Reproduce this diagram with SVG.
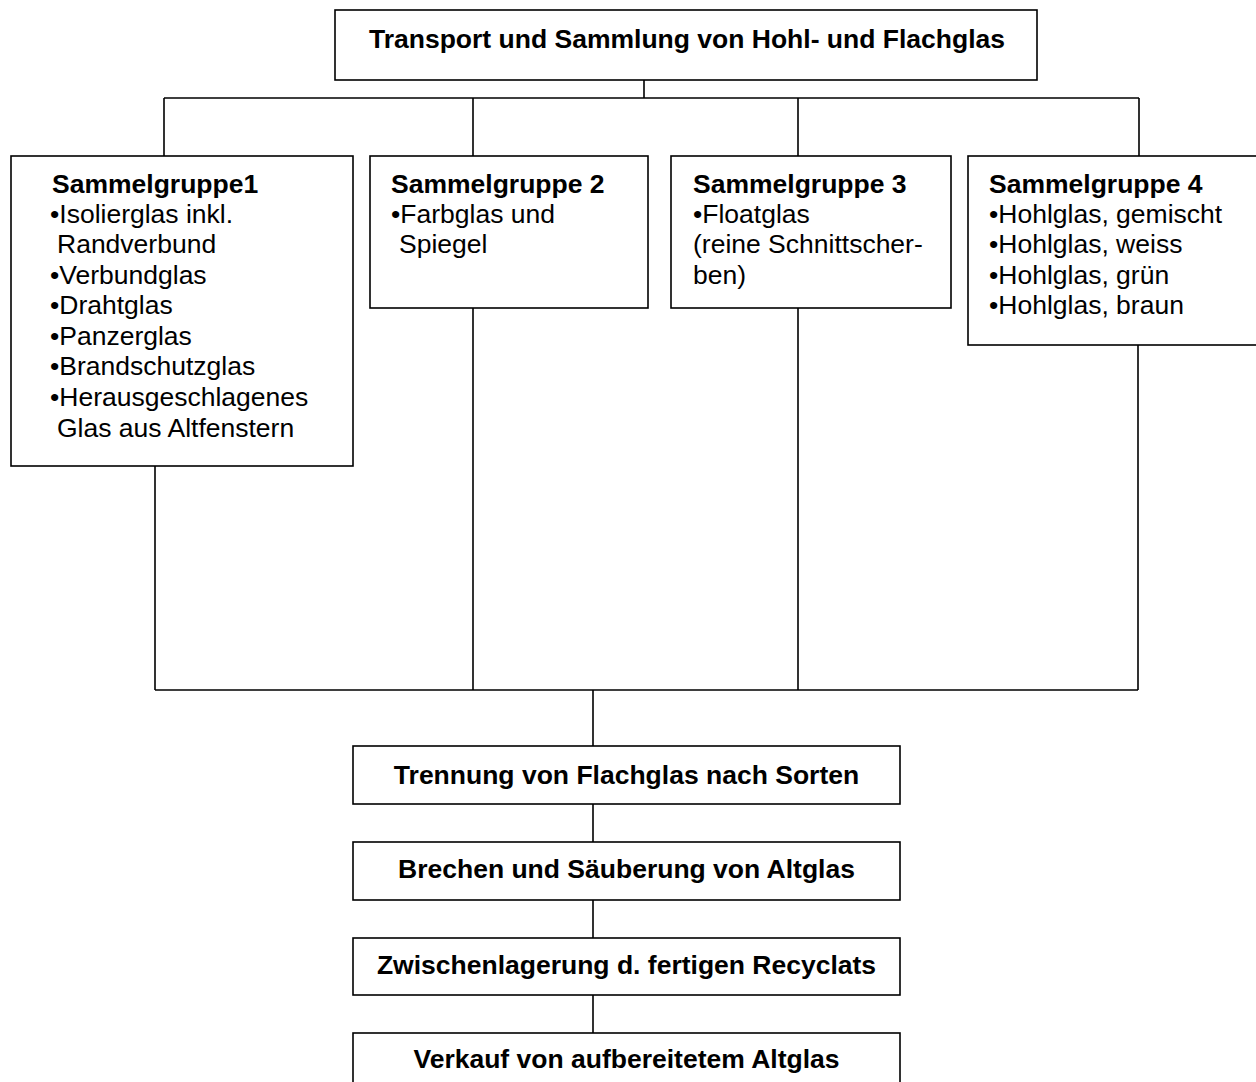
<svg xmlns="http://www.w3.org/2000/svg" width="1256" height="1082" viewBox="0 0 1256 1082">
<style>
.box{fill:#fff;stroke:#000;stroke-width:1.6}
.con{fill:none;stroke:#000;stroke-width:1.6}
text{font-family:"Liberation Sans",Arial,sans-serif;font-size:26.5px;fill:#000}
.b{font-weight:bold}
.c{text-anchor:middle}
</style>
<rect width="1256" height="1082" fill="#fff"/>
<g id="connectors">
<path class="con" d="M644 80V98M164 98H1139M164 98V156M473 98V156M798 98V156M1139 98V156"/>
<path class="con" d="M155 466V690M473 308V690M798 308V690M1138 345V690M155 690H1138M593 690V746"/>
<path class="con" d="M593 804V842M593 900V938M593 995V1033"/>
</g>
<g id="top">
<rect class="box" x="335" y="10" width="702" height="70"/>
<text class="b c" x="687" y="48">Transport und Sammlung von Hohl- und Flachglas</text>
</g>
<g id="g1">
<rect class="box" x="11" y="156" width="342" height="310"/>
<text class="b" x="52" y="193">Sammelgruppe1</text>
<text x="50" y="223">•Isolierglas inkl.</text>
<text x="57" y="253">Randverbund</text>
<text x="50" y="284">•Verbundglas</text>
<text x="50" y="314">•Drahtglas</text>
<text x="50" y="345">•Panzerglas</text>
<text x="50" y="375">•Brandschutzglas</text>
<text x="50" y="406">•Herausgeschlagenes</text>
<text x="57" y="437">Glas aus Altfenstern</text>
</g>
<g id="g2">
<rect class="box" x="370" y="156" width="278" height="152"/>
<text class="b" x="391" y="193">Sammelgruppe 2</text>
<text x="391" y="223">•Farbglas und</text>
<text x="399" y="253">Spiegel</text>
</g>
<g id="g3">
<rect class="box" x="671" y="156" width="280" height="152"/>
<text class="b" x="693" y="193">Sammelgruppe 3</text>
<text x="693" y="223">•Floatglas</text>
<text x="693" y="253">(reine Schnittscher-</text>
<text x="693" y="284">ben)</text>
</g>
<g id="g4">
<rect class="box" x="968" y="156" width="300" height="189"/>
<text class="b" x="989" y="193">Sammelgruppe 4</text>
<text x="989" y="223">•Hohlglas, gemischt</text>
<text x="989" y="253">•Hohlglas, weiss</text>
<text x="989" y="284">•Hohlglas, grün</text>
<text x="989" y="314">•Hohlglas, braun</text>
</g>
<g id="s1">
<rect class="box" x="353" y="746" width="547" height="58"/>
<text class="b c" x="626.5" y="784">Trennung von Flachglas nach Sorten</text>
</g>
<g id="s2">
<rect class="box" x="353" y="842" width="547" height="58"/>
<text class="b c" x="626.5" y="878">Brechen und Säuberung von Altglas</text>
</g>
<g id="s3">
<rect class="box" x="353" y="938" width="547" height="57"/>
<text class="b c" x="626.5" y="974">Zwischenlagerung d. fertigen Recyclats</text>
</g>
<g id="s4">
<rect class="box" x="353" y="1033" width="547" height="60"/>
<text class="b c" x="626.5" y="1068">Verkauf von aufbereitetem Altglas</text>
</g>
</svg>
